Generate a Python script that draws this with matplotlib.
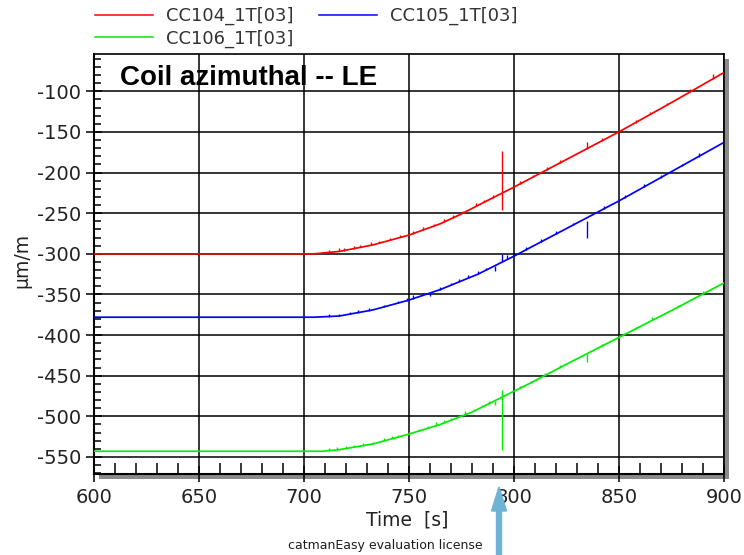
import matplotlib
matplotlib.use("Agg")
import numpy as np
import matplotlib.pyplot as plt
from matplotlib.patches import Rectangle, FancyArrow
from matplotlib.ticker import MultipleLocator, FixedLocator

# ---- measured strain traces (time in s, strain in µm/m) ----
t_104 = [600, 705, 717, 733, 750, 765, 775, 787, 800, 825, 850, 875, 900]
cc104 = [-300, -300, -297, -289, -277, -263, -251, -235, -218, -184, -150, -114, -77]

t_105 = [600, 705, 717, 733, 750, 765, 783, 800, 825, 850, 875, 900]
cc105 = [-378, -378, -376.5, -369, -357, -344, -325, -303, -269, -235, -199, -163]

t_106 = [600, 709, 717, 733, 750, 765, 780, 794, 808, 825, 850, 875, 900]
cc106 = [-543, -543, -541, -534, -522, -510, -495, -477, -459, -436, -403, -370, -336]

# large glitches: time, lower and upper extent
glitch_104_t = [794.3]
glitch_104_lo = [-246]
glitch_104_hi = [-174]

glitch_105_t = [834.8]
glitch_105_lo = [-280]
glitch_105_hi = [-259]

glitch_106_t = [794.3]
glitch_106_lo = [-541]
glitch_106_hi = [-468]

# short spikes riding on the traces: time and excursion
hair_104_t = [712, 717, 719, 724, 727, 732, 736, 741, 746, 752, 757, 762, 767, 771, 776,
              782, 786, 790, 803, 809, 816, 822, 835, 842, 858, 865, 873, 884, 895]
hair_104_d = [3, 4, 3, 3, 3, 4, 3, 3, 3, 3, 4, 3, 3, 4, 3,
              4, 3, 3, 3, 3, 3, 3, 8, 3, 3, 3, 3, 3, 6]

hair_105_t = [712, 717, 722, 726, 731, 738, 745, 749, 752, 757, 760, 765, 770, 774, 778,
              783, 787, 791, 794.3, 797, 806, 813, 820, 828, 843, 853, 862, 870, 880, 888]
hair_105_d = [3, 3, 3, 3, 3, 3, 3, 3, 5, 3, -4, 3, 3, 3, 4,
              4, 3, -6, 10, 5, 3, 3, 4, 3, 3, 3, 4, 3, 3, 4]

hair_106_t = [712, 716, 720, 724, 728, 733, 738, 742, 745, 750, 755, 759, 763, 767, 770,
              774, 777, 781, 785, 788, 791, 803, 808, 815, 822, 835, 842, 850, 858, 866, 878, 890]
hair_106_d = [3, 3, 3, 3, 3, 3, 4, 3, 3, 3, 3, 3, 4, 3, 3,
              3, 4, 3, 3, 3, -5, 3, 3, 3, 3, -10, 3, 3, 3, 4, 3, 4]

labels = ["CC104_1T[03]", "CC105_1T[03]", "CC106_1T[03]"]
colors = ["#ff0000", "#0000ff", "#00ee00"]

x_ticks = [600, 650, 700, 750, 800, 850, 900]
y_ticks = [-550, -500, -450, -400, -350, -300, -250, -200, -150, -100]
x_limits = (600, 900)
y_limits = (-571, -54)

W, H = 744, 555
fig = plt.figure(figsize=(W / 100, H / 100), dpi=100)
fig.patch.set_facecolor("white")

# axes box in pixels
left_px, right_px, top_px, bottom_px = 93.7, 723.7, 54, 474
ax_rect = [left_px / W, 1 - bottom_px / H, (right_px - left_px) / W, (bottom_px - top_px) / H]

# drop shadow behind the plot frame
sh = 5
fig.patches.append(Rectangle(((left_px + sh) / W, 1 - (bottom_px + sh) / H),
                             (right_px - left_px) / W, (bottom_px - top_px) / H,
                             transform=fig.transFigure, facecolor="#8a8a8a",
                             edgecolor="none", zorder=0))

ax = fig.add_axes(ax_rect, zorder=1)
ax.set_facecolor("white")

lw = 1.25
series = [
    (t_104, cc104, glitch_104_t, glitch_104_lo, glitch_104_hi, hair_104_t, hair_104_d),
    (t_105, cc105, glitch_105_t, glitch_105_lo, glitch_105_hi, hair_105_t, hair_105_d),
    (t_106, cc106, glitch_106_t, glitch_106_lo, glitch_106_hi, hair_106_t, hair_106_d),
]
handles = []
for (t, v, gt, glo, ghi, ht, hd), c in zip(series, colors):
    h, = ax.plot(t, v, color=c, lw=lw, zorder=3)
    handles.append(h)
    ax.vlines(gt, glo, ghi, color=c, lw=1.0, zorder=3)
    base = np.interp(ht, t, v)
    ax.vlines(ht, base, base + np.asarray(hd), color=c, lw=1.0, zorder=3)

ax.set_xlim(*x_limits)
ax.set_ylim(*y_limits)

ax.xaxis.set_major_locator(FixedLocator(x_ticks))
ax.yaxis.set_major_locator(FixedLocator(y_ticks))
ax.set_xticklabels([str(v) for v in x_ticks])
ax.set_yticklabels(["-" + str(abs(v)) for v in y_ticks])
ax.xaxis.set_minor_locator(MultipleLocator(10))
ax.yaxis.set_minor_locator(MultipleLocator(10))

ax.grid(True, which="major", color="black", lw=1.1, zorder=1)
ax.set_axisbelow(True)

for s in ax.spines.values():
    s.set_linewidth(1.5)
    s.set_color("black")
ax.spines["top"].set_linewidth(1.2)
ax.spines["right"].set_linewidth(1.2)

ax.tick_params(axis="both", which="major", direction="inout", length=12, width=1.1,
               labelsize=14, labelcolor="#222222", colors="black")
ax.tick_params(axis="x", which="major", pad=4)
ax.tick_params(axis="y", which="major", pad=3)
ax.tick_params(axis="x", which="minor", direction="in", length=8, width=1.1)
ax.tick_params(axis="y", which="minor", direction="in", length=5, width=1.1)
for lab in ax.get_xticklabels() + ax.get_yticklabels():
    lab.set_family("DejaVu Sans")

# title inside the plot
fig.text(120 / W, 1 - 85 / H, "Coil azimuthal -- LE", fontsize=20, fontweight="bold",
         family="Liberation Sans", color="black", ha="left", va="baseline", zorder=5)

# axis labels
fig.text(22 / W, 1 - 260 / H, "µm/m", rotation=90, fontsize=13.5, family="DejaVu Sans",
         color="#222222", ha="center", va="center")
fig.text(407 / W, 1 - 520 / H, "Time  [s]", fontsize=13.5, family="DejaVu Sans",
         color="#222222", ha="center", va="center")
fig.text(385 / W, 1 - 545 / H, "catmanEasy evaluation license", fontsize=9,
         family="DejaVu Sans", color="#221a22", ha="center", va="center")

# legend above the plot
leg = fig.legend([handles[0], handles[2], handles[1]], [labels[0], labels[2], labels[1]],
                 ncol=2, loc="upper left", bbox_to_anchor=(95 / W, 1 - 7 / H),
                 frameon=False, fontsize=13, handlelength=3.2, handletextpad=0.75,
                 columnspacing=1.4, labelspacing=0.25, borderpad=0, borderaxespad=0)
for txt in leg.get_texts():
    txt.set_color("#333333")
for ln in leg.get_lines():
    ln.set_linewidth(1.1)

# pointer arrow under the 800 s mark
fig.patches.append(FancyArrow(499 / W, 1 - 560 / H, 0, (560 - 487) / H, width=5 / W,
                              head_width=15 / W, head_length=24 / H,
                              length_includes_head=True, transform=fig.transFigure,
                              color="#6db3d6", zorder=6))

fig.savefig("out.png", dpi=100, facecolor="white")
